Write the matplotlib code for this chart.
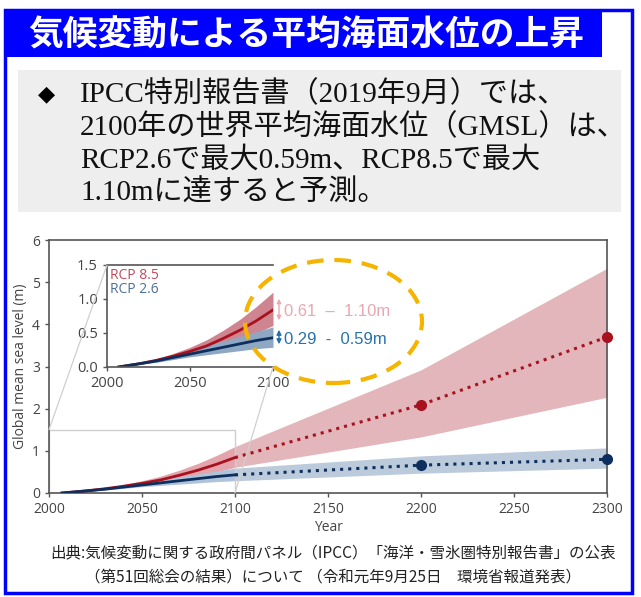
import matplotlib

matplotlib.use("Agg")
import matplotlib.pyplot as plt
from matplotlib.patches import Rectangle, Ellipse, ConnectionPatch, FancyArrowPatch

# ---- data ----
years_near = [2007, 2020, 2030, 2040, 2050, 2060, 2070, 2080, 2090, 2100]
rcp85_med = [0.0, 0.05, 0.10, 0.16, 0.23, 0.31, 0.42, 0.54, 0.68, 0.84]
rcp85_lo = [0.0, 0.04, 0.08, 0.13, 0.18, 0.24, 0.32, 0.40, 0.50, 0.61]
rcp85_hi = [0.0, 0.06, 0.12, 0.20, 0.29, 0.40, 0.54, 0.70, 0.89, 1.10]
rcp26_med = [0.0, 0.05, 0.09, 0.14, 0.19, 0.24, 0.29, 0.34, 0.39, 0.43]
rcp26_lo = [0.0, 0.04, 0.07, 0.11, 0.15, 0.18, 0.21, 0.24, 0.27, 0.29]
rcp26_hi = [0.0, 0.06, 0.11, 0.17, 0.24, 0.31, 0.38, 0.45, 0.52, 0.59]

years_long = [2100, 2200, 2300]
rcp85_long_med = [0.84, 2.09, 3.70]
rcp85_long_lo = [0.61, 1.33, 2.27]
rcp85_long_hi = [1.10, 2.92, 5.33]
rcp26_long_med = [0.43, 0.66, 0.80]
rcp26_long_lo = [0.29, 0.47, 0.59]
rcp26_long_hi = [0.59, 0.88, 1.07]

main_xticks = [2000, 2050, 2100, 2150, 2200, 2250, 2300]
main_yticks = [0, 1, 2, 3, 4, 5, 6]
inset_xticks = [2000, 2050, 2100]
inset_yticks = [0.0, 0.5, 1.0, 1.5]

title = "気候変動による平均海面水位の上昇"
summary_lines = [
    "IPCC特別報告書（2019年9月）では、",
    "2100年の世界平均海面水位（GMSL）は、",
    "RCP2.6で最大0.59m、RCP8.5で最大",
    "1.10mに達すると予測。",
]
source_lines = [
    "出典:気候変動に関する政府間パネル（IPCC）「海洋・雪氷圏特別報告書」の公表",
    "（第51回総会の結果）について （令和元年9月25日　環境省報道発表）",
]
range_85 = "0.61  –  1.10m"
range_26 = "0.29  -  0.59m"

RED = "#a8121f"
NAVY = "#0e2f5e"
RED_BAND = "#e3a4ab"
RED_BAND_LONG = "#e2b6ba"
BLUE_BAND = "#afc4da"
BLUE_BAND_LONG = "#bccbdc"
AXIS_GREY = "#555555"
W, H = 641, 597


def fx(px):
    return px / W


def fy(py):
    return 1 - py / H


plt.rcParams["font.family"] = ["Open Sans", "DejaVu Sans"]
fig = plt.figure(figsize=(W / 100, H / 100), dpi=100)

# ---- frame, banner and summary box ----
fig.add_artist(Rectangle((fx(5), fy(593)), fx(632) - fx(5), fy(10) - fy(593),
                         transform=fig.transFigure, fill=False, ec="#0000ff", lw=2.5, zorder=1))
fig.add_artist(Rectangle((fx(5), fy(57)), fx(602) - fx(5), fy(10) - fy(57),
                         transform=fig.transFigure, fc="#0000ff", ec="none", zorder=1))
fig.text(fx(28), fy(35), title, color="white", fontsize=25, fontweight="bold",
         family=["Noto Sans CJK JP"], va="center", ha="left")
fig.add_artist(Rectangle((fx(18), fy(212)), fx(621) - fx(18), fy(70) - fy(212),
                         transform=fig.transFigure, fc="#eeeeee", ec="none", zorder=1))
fig.text(fx(38), fy(94), "◆", fontsize=16, family=["DejaVu Sans"], va="center", ha="left")
for i, line in enumerate(summary_lines):
    fig.text(fx(80), fy(94 + 33 * i), line, fontsize=21, va="center", ha="left",
             family=["Liberation Serif", "Noto Sans CJK JP"], color="#111111")

# ---- main axes ----
ax = fig.add_axes([fx(49), fy(493), fx(607) - fx(49), fy(240) - fy(493)])
ax.fill_between(years_near, rcp85_lo, rcp85_hi, color=RED_BAND, lw=0, zorder=1)
ax.fill_between(years_near, rcp26_lo, rcp26_hi, color=BLUE_BAND, lw=0, zorder=1)
ax.fill_between(years_long, rcp85_long_lo, rcp85_long_hi, color=RED_BAND_LONG, lw=0, zorder=1)
ax.fill_between(years_long, rcp26_long_lo, rcp26_long_hi, color=BLUE_BAND_LONG, lw=0, zorder=1)
ax.plot(years_near, rcp85_med, color=RED, lw=2, zorder=3)
ax.plot(years_near, rcp26_med, color=NAVY, lw=2, zorder=3)
ax.plot(years_long, rcp85_long_med, color=RED, lw=2.2, ls=":", zorder=3)
ax.plot(years_long, rcp26_long_med, color=NAVY, lw=2.2, ls=":", zorder=3)
ax.plot(years_long[1:], rcp85_long_med[1:], "o", color=RED, ms=7, zorder=4, clip_on=False)
ax.plot(years_long[1:], rcp26_long_med[1:], "o", color=NAVY, ms=7, zorder=4, clip_on=False)

ax.set_xlim(2000, 2300)
ax.set_ylim(0, 6)
ax.set_xticks(main_xticks)
ax.set_yticks(main_yticks)
ax.tick_params(colors=AXIS_GREY, labelcolor="#444444", labelsize=10, length=3, width=1)
for s in ax.spines.values():
    s.set_color(AXIS_GREY)
    s.set_linewidth(1.2)
ax.set_xlabel("Year", fontsize=10, color="#444444", labelpad=2)
ax.set_ylabel("Global mean sea level (m)", fontsize=10, color="#444444", labelpad=3)

# zoom rectangle on the main axes
ax.add_patch(Rectangle((2000, 0), 100, 1.5, fill=False, ec="#cfcfcf", lw=1, zorder=2))

# ---- inset ----
axin = fig.add_axes([fx(107), fy(367), fx(273) - fx(107), fy(265) - fy(367)])
axin.fill_between(years_near, rcp85_lo, rcp85_hi, color="#cf8590", lw=0)
axin.fill_between(years_near, rcp26_lo, rcp26_hi, color="#8ea8c4", lw=0)
axin.plot(years_near, rcp85_med, color=RED, lw=2)
axin.plot(years_near, rcp26_med, color=NAVY, lw=2)
axin.set_xlim(2000, 2100)
axin.set_ylim(0, 1.5)
axin.set_xticks(inset_xticks)
axin.set_yticks(inset_yticks)
axin.tick_params(colors=AXIS_GREY, labelcolor="#444444", labelsize=10.5, length=3, width=1)
axin.spines["right"].set_visible(False)
for name in ("left", "bottom", "top"):
    axin.spines[name].set_color(AXIS_GREY)
    axin.spines[name].set_linewidth(1.2)
axin.text(0.02, 0.97, "RCP 8.5", color="#c04a5c", fontsize=10, transform=axin.transAxes, va="top")
axin.text(0.02, 0.83, "RCP 2.6", color="#4d7098", fontsize=10, transform=axin.transAxes, va="top")

for xa, ya in ((2000, 1.5), (2100, 0.0)):
    con = ConnectionPatch(xyA=(xa, ya), coordsA=ax.transData, xyB=(xa, ya), coordsB=axin.transData,
                          color="#cfcfcf", lw=0.9, zorder=0.5)
    fig.add_artist(con)

# ---- highlight ellipse with ranges ----
fig.add_artist(Ellipse((fx(333.5), fy(321.5)), fx(177), 123 / H, transform=fig.transFigure,
                       fill=False, ec="#f5b400", lw=3, ls=(0, (4, 2.6)), zorder=6))
fig.add_artist(FancyArrowPatch((fx(279), fy(296)), (fx(279), fy(323)), transform=fig.transFigure,
                               arrowstyle="<|-|>", mutation_scale=6, color="#eba8b0", lw=1, zorder=6))
fig.add_artist(FancyArrowPatch((fx(279), fy(327)), (fx(279), fy(347)), transform=fig.transFigure,
                               arrowstyle="<|-|>", mutation_scale=7, color="#2570ab", lw=1, zorder=6))
fig.text(fx(284), fy(311), range_85, color="#eaa7af", fontsize=12, va="center",
         family=["Liberation Sans"], zorder=6)
fig.text(fx(284), fy(339), range_26, color="#2572ad", fontsize=12, va="center",
         family=["Liberation Sans"], zorder=6)

# ---- source ----
for i, line in enumerate(source_lines):
    fig.text(fx(333), fy(553 + 24 * i), line, fontsize=11.2, ha="center", va="center",
             family=["Noto Sans CJK JP"], color="#222222")

fig.savefig("out.png", dpi=100)
